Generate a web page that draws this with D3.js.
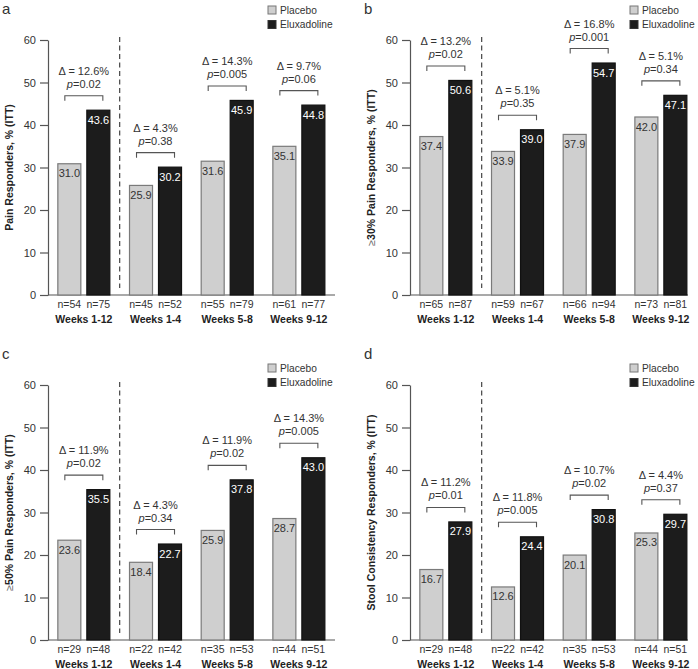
<!DOCTYPE html>
<html><head><meta charset="utf-8">
<script src="https://cdn.jsdelivr.net/npm/d3@7"></script>
<style>body{margin:0;background:#fff}svg{display:block;font-family:"Liberation Sans",Arial,sans-serif}</style>
</head><body><svg id="c" width="698" height="669"></svg>
<script>
const groups = ["Weeks 1-12","Weeks 1-4","Weeks 5-8","Weeks 9-12"];
const series = ["Placebo","Eluxadoline"];
const yTicks = [0,10,20,30,40,50,60];

const titleA = "Pain Responders, % (ITT)";
const placeboA = [31.0,25.9,31.6,35.1];
const eluxA = [43.6,30.2,45.9,44.8];
const nPlaceboA = [54,45,55,61];
const nEluxA = [75,52,79,77];
const deltaA = ["12.6","4.3","14.3","9.7"];
const pA = ["0.02","0.38","0.005","0.06"];

const titleB = "30% Pain Responders, % (ITT)";
const placeboB = [37.4,33.9,37.9,42.0];
const eluxB = [50.6,39.0,54.7,47.1];
const nPlaceboB = [65,59,66,73];
const nEluxB = [87,67,94,81];
const deltaB = ["13.2","5.1","16.8","5.1"];
const pB = ["0.02","0.35","0.001","0.34"];

const titleC = "50% Pain Responders, % (ITT)";
const placeboC = [23.6,18.4,25.9,28.7];
const eluxC = [35.5,22.7,37.8,43.0];
const nPlaceboC = [29,22,35,44];
const nEluxC = [48,42,53,51];
const deltaC = ["11.9","4.3","11.9","14.3"];
const pC = ["0.02","0.34","0.02","0.005"];

const titleD = "Stool Consistency Responders, % (ITT)";
const placeboD = [16.7,12.6,20.1,25.3];
const eluxD = [27.9,24.4,30.8,29.7];
const nPlaceboD = [29,22,35,44];
const nEluxD = [48,42,53,51];
const deltaD = ["11.2","11.8","10.7","4.4"];
const pD = ["0.01","0.005","0.02","0.37"];

const svg = d3.select("#c");
const FS = 10.5, TXT = "#333", AX = "#555";
const colors = {Placebo:"#cfcfcf", Eluxadoline:"#1c1c1c"};
const strokes = {Placebo:"#7a7a7a", Eluxadoline:"#111"};

function panel(cfg){
  const {label, ax, y0, title, ge, pl, el, nP, nE, dl, pv, axisLen, legendY} = cfg;
  const g = svg.append("g");
  const y = d3.scaleLinear().domain([0,60]).range([y0, y0-255]);
  const x = d3.scaleBand().domain(groups).range([ax, ax+286.7]).paddingInner(0).paddingOuter(0);
  const xs = d3.scaleBand().domain(series).range([-26.5,26.5]).paddingInner(0.1724).paddingOuter(0);

  const yAxis = d3.axisLeft(y).tickValues(yTicks).tickSize(8).tickSizeOuter(0);
  const ya = g.append("g").attr("transform",`translate(${ax},0)`).call(yAxis);
  ya.select(".domain").attr("stroke",AX).attr("stroke-width",1.2);
  ya.selectAll(".tick line").attr("stroke",AX).attr("stroke-width",1.2);
  ya.selectAll(".tick text").attr("fill",TXT).attr("font-size",FS+0.5).attr("x",-12)
    .attr("font-family","Liberation Sans, Arial, sans-serif");

  g.append("line").attr("x1",ax).attr("x2",ax+axisLen).attr("y1",y0).attr("y2",y0)
    .attr("stroke",AX).attr("stroke-width",1.2);

  const sx = x(groups[1]);
  g.append("line").attr("x1",sx).attr("x2",sx).attr("y1",y(60)-3).attr("y2",y0-7)
    .attr("stroke","#444").attr("stroke-width",1.2).attr("stroke-dasharray","5,3.5");

  groups.forEach((grp,i)=>{
    const cx = x(grp) + x.bandwidth()/2;
    const vals = {Placebo:pl[i], Eluxadoline:el[i]};
    const ns = {Placebo:nP[i], Eluxadoline:nE[i]};
    series.forEach(s=>{
      const bx = cx + xs(s);
      const v = vals[s];
      g.append("rect").attr("x",bx+0.5).attr("y",y(v)+0.5).attr("width",xs.bandwidth()-1)
        .attr("height",y0-y(v)-0.5).attr("fill",colors[s]).attr("stroke",strokes[s]).attr("stroke-width",1.2);
      g.append("text").attr("x",bx+xs.bandwidth()/2).attr("y",y(v)+14).attr("text-anchor","middle")
        .attr("font-size",FS+0.5).attr("fill",s==="Placebo"?TXT:"#fff").text(v.toFixed(1));
      g.append("text").attr("x",bx+xs.bandwidth()/2).attr("y",y0+13).attr("text-anchor","middle")
        .attr("font-size",FS).attr("fill",TXT).text("n="+ns[s]);
    });
    g.append("text").attr("x",cx).attr("y",y0+28).attr("text-anchor","middle")
      .attr("font-size",FS).attr("font-weight","bold").attr("fill","#222").text(grp);
    const by = y(el[i]) - 14;
    g.append("path").attr("d",`M${cx-19},${by+5}V${by}H${cx+19}V${by+5}`)
      .attr("fill","none").attr("stroke","#555").attr("stroke-width",1.1);
    const t1 = g.append("text").attr("x",cx).attr("y",by-8).attr("text-anchor","middle")
      .attr("font-size",FS+0.5).attr("fill",TXT);
    t1.append("tspan").attr("font-style","italic").text("p");
    t1.append("tspan").text("="+pv[i]);
    g.append("text").attr("x",cx).attr("y",by-21).attr("text-anchor","middle")
      .attr("font-size",FS+0.5).attr("fill",TXT).text("\u0394 = "+dl[i]+"%");
  });

  const yt = g.append("text").attr("transform",`translate(${ax-39},${(y(0)+y(60))/2}) rotate(-90)`)
    .attr("text-anchor","middle").attr("font-size",FS).attr("font-weight","bold").attr("fill","#222")
    .attr("dy","0.35em");
  if (ge) yt.append("tspan").attr("font-weight","normal").attr("fill","#666").text("\u2265");
  yt.append("tspan").text(title);

  series.forEach((s,k)=>{
    const ly = y0 + legendY + k*14.5;
    g.append("rect").attr("x",ax+220).attr("y",ly-4).attr("width",8).attr("height",8)
      .attr("fill",colors[s]).attr("stroke",strokes[s]==="#111"?"#333":"#777").attr("stroke-width",1);
    g.append("text").attr("x",ax+232).attr("y",ly).attr("dy","0.35em").attr("font-size",FS-0.3)
      .attr("fill",TXT).text(s);
  });

  svg.append("text").attr("x",ax-46).attr("y",y0-281).attr("font-size",15).attr("fill","#333").text(label);
}

panel({label:"a", ax:48, y0:295, title:titleA, ge:false, pl:placeboA, el:eluxA, nP:nPlaceboA, nE:nEluxA, dl:deltaA, pv:pA, axisLen:287, legendY:-285});
panel({label:"b", ax:410, y0:295, title:titleB, ge:true, pl:placeboB, el:eluxB, nP:nPlaceboB, nE:nEluxB, dl:deltaB, pv:pB, axisLen:278, legendY:-285});
panel({label:"c", ax:48, y0:640, title:titleC, ge:true, pl:placeboC, el:eluxC, nP:nPlaceboC, nE:nEluxC, dl:deltaC, pv:pC, axisLen:287, legendY:-272});
panel({label:"d", ax:410, y0:640, title:titleD, ge:false, pl:placeboD, el:eluxD, nP:nPlaceboD, nE:nEluxD, dl:deltaD, pv:pD, axisLen:278, legendY:-272});
</script></body></html>
